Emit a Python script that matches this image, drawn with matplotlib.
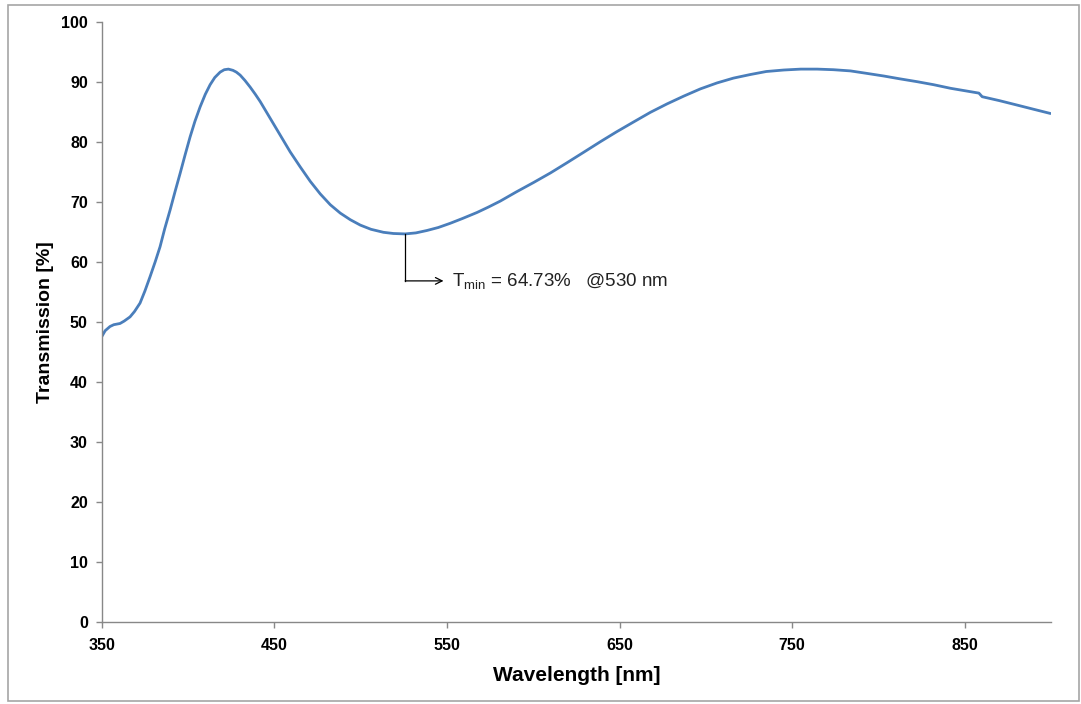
import matplotlib
matplotlib.use("Agg")
import matplotlib.pyplot as plt
from matplotlib.patches import Rectangle

plt.rcParams['font.family'] = ['Liberation Sans', 'DejaVu Sans']
plt.rcParams['mathtext.default'] = 'regular'

# Data
wavelength_nm = [350, 352, 354.8, 357, 360.6, 363, 366.4, 369, 372.2, 375, 378, 381,
                 383.8, 386.5, 389.6, 392.5, 395.4, 398.3, 401.2, 404, 407, 410,
                 412.8, 415.5, 418.6, 421, 423.4, 426, 428, 430.2, 433, 436, 439, 441.8,
                 444.7, 447.6, 450.5, 453.4, 459.2, 465, 470.8, 476.6, 482.4, 488.2, 494, 499.8,
                 506, 513.2, 519, 525.8, 532, 538.4, 545, 551.9, 559, 567.4, 574,
                 580.9, 590, 600.2, 610, 619.6, 629, 638.9, 648, 658.2, 667.9, 677.5,
                 687.2, 696.8, 706.5, 716, 725.8, 735, 745.1, 755, 764.5, 774, 783.8,
                 793, 803.1, 812, 822.5, 832, 841.8, 850, 858.2, 860.1, 870, 880.4,
                 890, 899.7]
transmission_pct = [47.6, 48.6, 49.3, 49.6, 49.8, 50.2, 50.9, 51.8, 53.2, 55.2, 57.6, 60.1,
                    62.6, 65.6, 68.7, 71.8, 74.8, 77.9, 80.9, 83.5, 85.9, 88.0,
                    89.6, 90.8, 91.7, 92.1, 92.2, 92.0, 91.7, 91.2, 90.3, 89.2, 88.0, 86.8,
                    85.4, 84.0, 82.6, 81.2, 78.4, 75.9, 73.5, 71.4, 69.6, 68.2, 67.1, 66.2,
                    65.5, 65.0, 64.8, 64.73, 64.9, 65.3, 65.8, 66.5, 67.3, 68.3, 69.2,
                    70.2, 71.7, 73.3, 74.9, 76.6, 78.3, 80.1, 81.7, 83.4, 85.0, 86.4,
                    87.7, 88.9, 89.9, 90.7, 91.3, 91.8, 92.05, 92.2, 92.2, 92.1, 91.9,
                    91.5, 91.05, 90.6, 90.1, 89.6, 89.0, 88.6, 88.2, 87.6, 86.95, 86.2,
                    85.5, 84.8]

x_ticks = [350, 450, 550, 650, 750, 850]
y_ticks = [0, 10, 20, 30, 40, 50, 60, 70, 80, 90, 100]

t_min_wl = 525.8
t_min_val = 64.73
annot_y = 56.9
annot_arrow_end = 548
annot_text_x = 553
annot_text = r"T$_{min}$ = 64.73%   @530 nm"

fig = plt.figure(figsize=(10.81, 7.04), dpi=100)
ax = fig.add_axes([0.0941, 0.1161, 0.9723 - 0.0941, 0.9683 - 0.1161])

ax.plot(wavelength_nm, transmission_pct, color='#4A7EBB', lw=2.0, solid_capstyle='round')

ax.set_xlim(350, 900)
ax.set_ylim(0, 100)
ax.set_xticks(x_ticks)
ax.set_yticks(y_ticks)

for side in ['top', 'right']:
    ax.spines[side].set_visible(False)
for side in ['left', 'bottom']:
    ax.spines[side].set_color('#888888')
    ax.spines[side].set_linewidth(1.0)

ax.tick_params(axis='both', direction='out', length=4, width=1, color='#888888',
               labelsize=11.5)
for lab in ax.get_xticklabels() + ax.get_yticklabels():
    lab.set_fontweight('bold')
ax.tick_params(axis='x', pad=7)
ax.tick_params(axis='y', pad=6)

ax.set_xlabel('Wavelength [nm]', fontsize=15, fontweight='bold', labelpad=10)
ax.set_ylabel('Transmission [%]', fontsize=14, fontweight='bold', labelpad=5)

# annotation
ax.plot([t_min_wl, t_min_wl], [t_min_val, annot_y], color='black', lw=0.9)
ax.annotate('', xy=(annot_arrow_end, annot_y), xytext=(t_min_wl, annot_y),
            arrowprops=dict(arrowstyle='->', color='black', lw=0.9,
                            shrinkA=0, shrinkB=0, mutation_scale=12))
ax.text(annot_text_x, annot_y, annot_text, fontsize=13.5, va='center', ha='left',
        color='#222222')

# outer frame
fig.patches.append(Rectangle((8 / 1081, 1 - 701 / 704), (1079 - 8) / 1081, (701 - 5) / 704,
                             transform=fig.transFigure, fill=False,
                             edgecolor='#A6A6A6', lw=1.2))

fig.savefig('out.png', dpi=100)
